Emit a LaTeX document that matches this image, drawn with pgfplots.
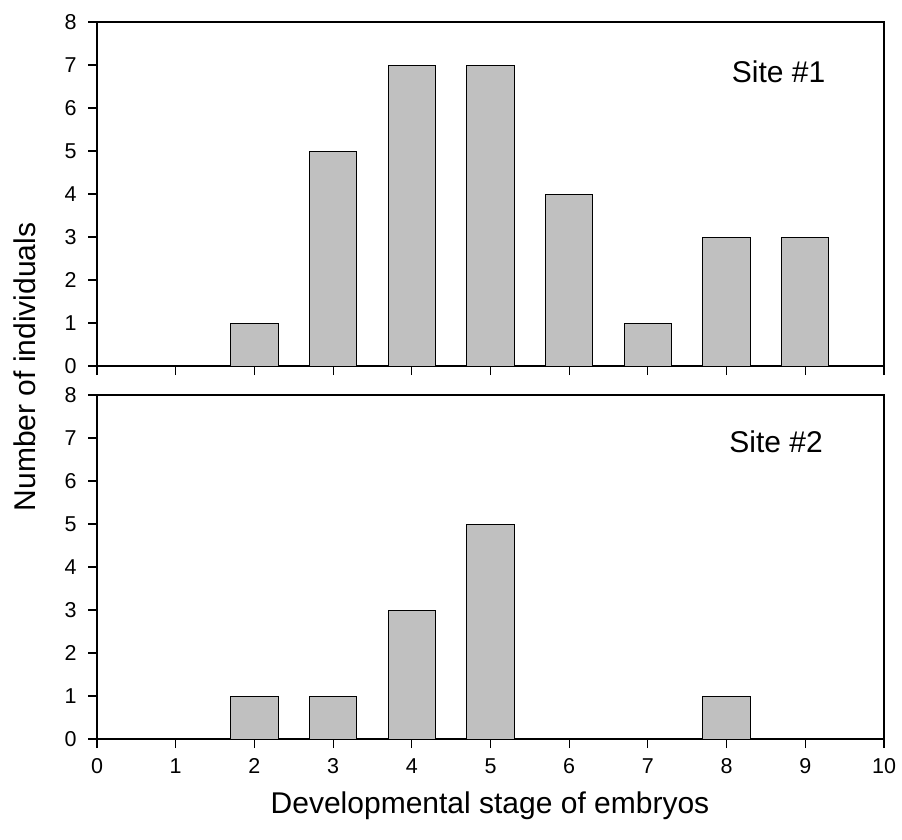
\documentclass[border=0pt]{standalone}
\usepackage{pgfplots}
\pgfplotsset{compat=1.18}
\usepackage{pgfplotstable}
\usepackage{fontspec}
\setmainfont{Liberation Sans}
\definecolor{barfill}{RGB}{192,192,192}
\newcommand{\tickfont}{\fontsize{21.5}{25}\selectfont}
\newcommand{\labfont}{\fontsize{30}{34}\selectfont}
\pgfplotstableread{
x y
2 1
3 5
4 7
5 7
6 4
7 1
8 3
9 3
}\siteone
\pgfplotstableread{
x y
2 1
3 1
4 3
5 5
8 1
}\sitetwo
\pgfplotsset{panel/.style={
  scale only axis, width=787pt, height=344pt,
  xmin=0, xmax=10, ymin=0, ymax=8,
  xtick={0,...,10}, ytick={0,...,8},
  tick align=outside, tick pos=left,
  major tick length=9pt,
  axis line style={line width=1.1pt},
  every tick/.style={black, line width=1.1pt},
  /pgf/number format/assume math mode=true,
  xticklabel={\tickfont\pgfmathprintnumber{\tick}},
  yticklabel={\tickfont\pgfmathprintnumber{\tick}},
  yticklabel style={xshift=-8pt},
  xticklabel style={yshift=-7pt},
  ybar, bar width=0.6,
  clip=false,
}}
\begin{document}
\begin{tikzpicture}
\begin{axis}[panel, at={(0,0)}, anchor=south west, xticklabels={}]
  \addplot[fill=barfill, draw=black, line width=1pt] table[x=x,y=y] {\siteone};
  \node[font=\labfont] at (axis cs:8.66,6.84) {Site \#1};
\end{axis}
\begin{axis}[panel, at={(0,-373pt)}, anchor=south west]
  \addplot[fill=barfill, draw=black, line width=1pt] table[x=x,y=y] {\sitetwo};
  \node[font=\labfont] at (axis cs:8.63,6.91) {Site \#2};
\end{axis}
\node[anchor=base, font=\labfont] at (393pt,-447pt) {Developmental stage of embryos};
\node[anchor=base, rotate=90, font=\labfont] at (-61pt,-1pt) {Number of individuals};
\pgfresetboundingbox
\path[use as bounding box] (-97pt,366pt) rectangle (805pt,-473pt);
\end{tikzpicture}
\end{document}
